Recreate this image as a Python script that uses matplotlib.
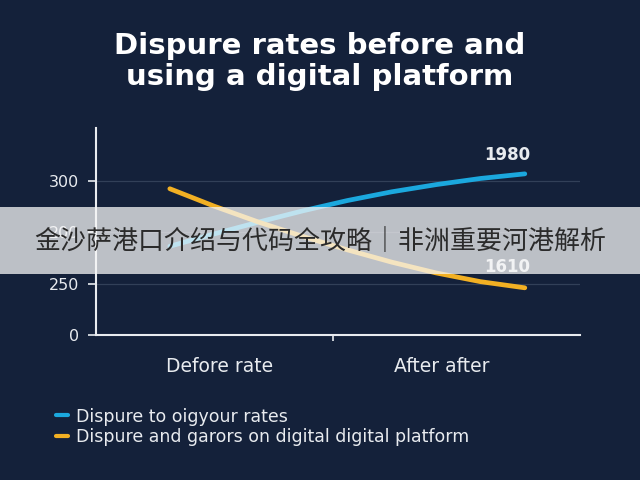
import numpy as np
from matplotlib import pyplot as plt

# Data (y in axis tick-step units)
stage = [0.0, 0.125, 0.25, 0.375, 0.5, 0.625, 0.75, 0.875, 1.0]
before_rates = [1.73, 1.97, 2.20, 2.42, 2.62, 2.79, 2.93, 3.05, 3.14]
digital_rates = [2.85, 2.51, 2.20, 1.92, 1.66, 1.42, 1.21, 1.04, 0.92]
series_names = ["Dispure to oigyour rates",
                "Dispure and garors on digital digital platform"]
end_labels = ["1980", "1610"]
ytick_pos = [0, 1, 2, 3]
ytick_labels = ["0", "250", "200", "300"]
category_pos = [0.141, 0.766]
category_labels = ["Defore rate", "After after"]

bg = "#14213a"
blue = "#1ba8de"
orange = "#f2b023"
light = "#e8ebef"

fig = plt.figure(figsize=(6.4, 4.8), dpi=100, facecolor=bg)
ax = fig.add_axes([0.15, 0.302, 0.756, 0.431], facecolor=bg)

ax.plot(stage, before_rates, color=blue, lw=3.4, solid_capstyle="round",
        solid_joinstyle="round", zorder=3)
ax.plot(stage, digital_rates, color=orange, lw=3.4, solid_capstyle="round",
        solid_joinstyle="round", zorder=3)

ax.text(stage[-1] - 0.05, before_rates[-1] + 0.2, end_labels[0], color=light,
        fontsize=12, fontweight="bold", ha="center", va="bottom")
ax.text(stage[-1] - 0.05, digital_rates[-1] + 0.23, end_labels[1], color=light,
        fontsize=12, fontweight="bold", ha="center", va="bottom", zorder=6)

ax.set_xlim(-0.208, 1.155)
ax.set_ylim(0, 4.03)
ax.set_yticks(ytick_pos)
ax.set_yticklabels(ytick_labels)
ax.set_xticks([0.459])
ax.set_xticklabels([""])
ax.tick_params(axis="y", colors=light, labelsize=11.5, length=6, width=1.2, pad=6)
ax.tick_params(axis="x", colors=light, length=4, width=1.2, direction="out")
ax.grid(axis="y", color="#3a4860", lw=0.9, alpha=0.8)
ax.set_axisbelow(True)
for side in ["top", "right"]:
    ax.spines[side].set_visible(False)
for side in ["left", "bottom"]:
    ax.spines[side].set_color(light)
    ax.spines[side].set_linewidth(1.5)

for pos, lab in zip(category_pos, category_labels):
    ax.text(pos, -0.43, lab, color=light, fontsize=13.5, ha="center", va="top")

fig.text(0.5, 0.872, "Dispure rates before and\nusing a digital platform", color="white",
         fontsize=21, fontweight="heavy", ha="center", va="center", linespacing=1.15)

# legend
leg = ax.legend(series_names, loc="upper left", bbox_to_anchor=(-0.115, -0.275),
                frameon=False, fontsize=12.5, handlelength=0.7, handletextpad=0.45,
                labelspacing=0.15, labelcolor=light)
for line in leg.get_lines():
    line.set_linewidth(3)

# semi-transparent banner over the chart
fig.patches.append(plt.Rectangle((0, 1 - 274 / 480), 1, 67 / 480, transform=fig.transFigure,
                                 facecolor="#f6f6f6", alpha=0.75, zorder=5, edgecolor="none"))
fig.text(0.5, 1 - 241 / 480, "金沙萨港口介绍与代码全攻略｜非洲重要河港解析", color="#2b2b2b",
         fontsize=18.7, ha="center", va="center", zorder=7,
         family=["Noto Sans CJK SC", "DejaVu Sans"])

plt.savefig("out.png", dpi=100, facecolor=bg)
